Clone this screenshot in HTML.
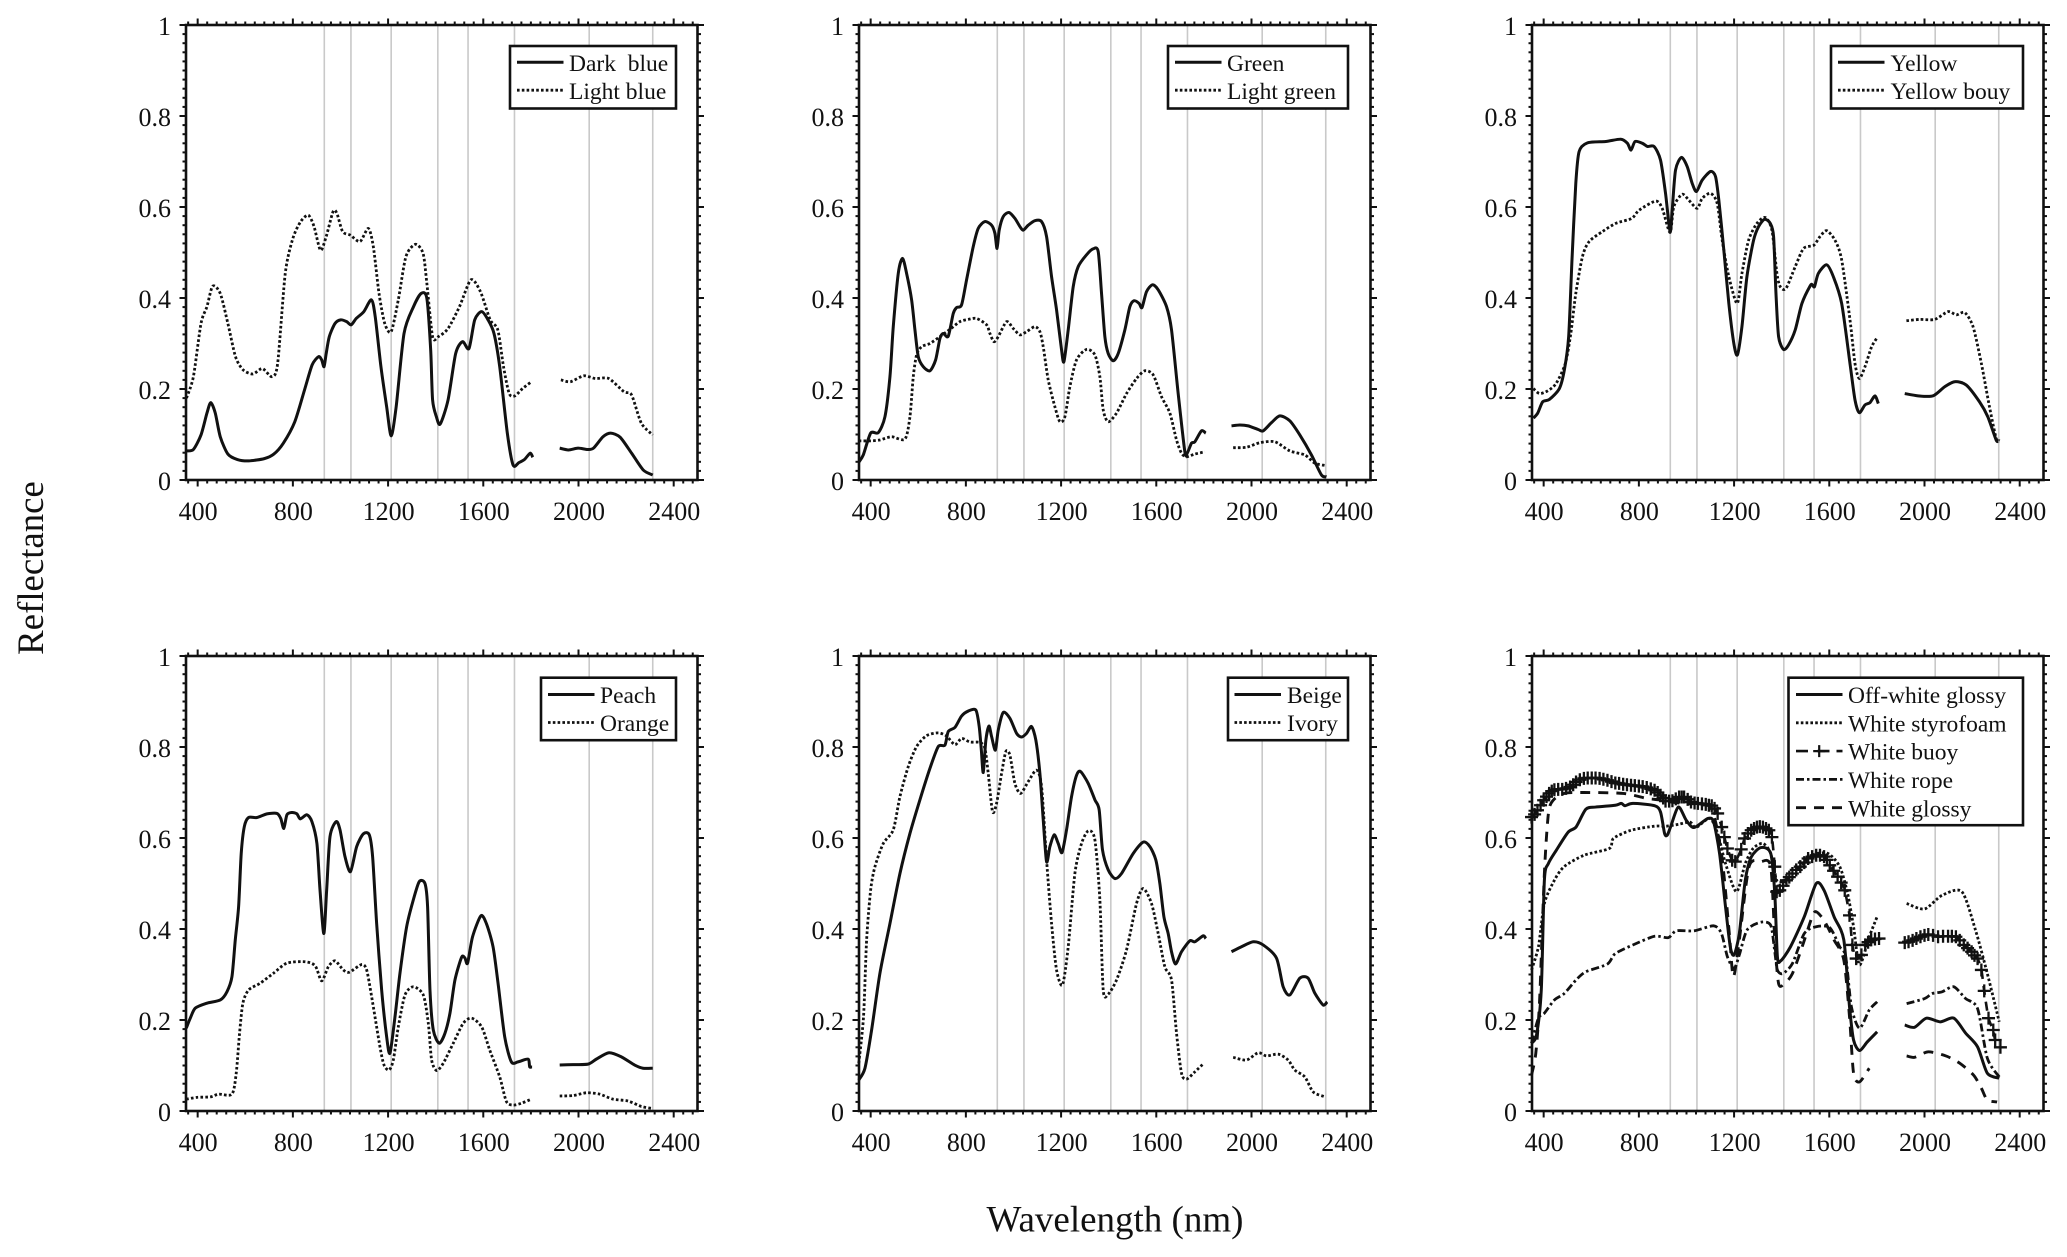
<!DOCTYPE html>
<html lang="en">
<head>
<meta charset="utf-8">
<title>Reflectance spectra</title>
<style>
html,body{margin:0;padding:0;background:#fff;}
svg{display:block;}
text{font-family:"Liberation Serif",serif;fill:#111;white-space:pre;}
</style>
</head>
<body>
<svg id="chart" xmlns="http://www.w3.org/2000/svg" width="2067" height="1257" viewBox="0 0 2067 1257">
<rect x="0" y="0" width="2067" height="1257" fill="#fff"/>
<text x="1115" y="1231.5" font-size="37" text-anchor="middle">Wavelength (nm)</text>
<text transform="translate(43,568) rotate(-90)" font-size="36.8" text-anchor="middle">Reflectance</text>
</svg>
<script>
// ---- tick labels and reference bands ----
const xTickLabels = [400, 800, 1200, 1600, 2000, 2400];
const yTickLabels = [0, 0.2, 0.4, 0.6, 0.8, 1];
const bandWavelengths = [932, 1044, 1213, 1409, 1536, 1731, 2045, 2312];

// ---- series: wavelength (nm) and reflectance; null marks the gap in the record ----
const darkBlueNm = [353,382,414,439,455,474,495,527,567,615,680,720,760,808,849,881,908,921,931,940,953,977,1001,1026,1045,1066,1098,1130,1146,1170,1194,1213,1234,1267,1307,1339,1363,1379,1387,1403,1419,1452,1484,1513,1540,1564,1593,1620,1645,1669,1701,1725,1749,1773,1797,1808,null,1921,1958,1998,2038,2063,2103,2135,2175,2223,2272,2312];
const darkBlueR = [.064,.067,.099,.147,.170,.147,.095,.057,.045,.042,.047,.057,.081,.128,.198,.253,.271,.264,.249,.278,.315,.344,.352,.348,.341,.355,.370,.396,.359,.249,.161,.097,.161,.322,.381,.410,.399,.286,.176,.139,.123,.176,.278,.304,.289,.352,.370,.352,.322,.249,.103,.033,.038,.045,.059,.05,null,.07,.066,.07,.067,.07,.095,.103,.094,.059,.022,.011];
const lightBlueNm = [353,382,414,439,463,495,527,559,591,632,672,712,736,768,800,833,865,889,916,940,969,985,1009,1042,1082,1117,1138,1162,1186,1213,1243,1275,1315,1347,1363,1387,1411,1452,1500,1548,1588,1629,1661,1685,1709,1733,1765,1802,null,1926,1966,2022,2071,2127,2191,2223,2264,2312];
const lightBlueR = [.18,.227,.344,.381,.426,.41,.344,.271,.242,.233,.245,.227,.256,.454,.531,.568,.582,.557,.505,.535,.59,.586,.546,.538,.524,.553,.513,.41,.344,.326,.396,.491,.518,.498,.432,.315,.315,.333,.381,.44,.414,.352,.33,.249,.19,.185,.201,.216,null,.22,.216,.229,.223,.223,.194,.187,.125,.099];

const greenNm = [350,369,400,432,460,481,495,516,534,551,572,586,600,621,649,673,691,705,726,747,761,782,803,831,852,880,908,922,931,940,957,981,1006,1027,1041,1062,1090,1118,1139,1160,1181,1202,1212,1230,1251,1272,1307,1335,1356,1370,1384,1398,1419,1440,1468,1489,1507,1528,1540,1559,1584,1608,1643,1664,1692,1720,1730,1748,1762,1790,1808,null,1916,1951,1986,2028,2049,2084,2119,2161,2203,2252,2294,2315];
const greenR = [.039,.055,.103,.104,.139,.227,.337,.454,.487,.454,.396,.33,.271,.249,.24,.264,.311,.322,.316,.366,.379,.385,.44,.513,.553,.568,.56,.542,.509,.549,.579,.588,.575,.557,.549,.56,.57,.568,.535,.447,.374,.286,.26,.33,.425,.469,.495,.508,.502,.41,.315,.278,.262,.278,.33,.381,.394,.388,.379,.414,.429,.418,.381,.33,.19,.062,.059,.081,.084,.108,.103,null,.119,.121,.119,.111,.108,.126,.141,.13,.099,.055,.011,.007];
const lightGreenNm = [350,400,439,488,544,565,579,593,614,649,691,733,775,810,845,887,901,918,936,971,999,1027,1055,1090,1111,1125,1146,1174,1195,1216,1237,1265,1307,1342,1363,1377,1398,1433,1475,1517,1552,1587,1622,1657,1685,1706,1727,1762,1804,null,1923,1979,2035,2098,2161,2224,2266,2308];
const lightGreenR = [.086,.086,.088,.095,.09,.139,.227,.275,.293,.3,.315,.331,.348,.353,.355,.341,.322,.304,.315,.348,.333,.319,.326,.337,.326,.293,.22,.161,.128,.139,.205,.264,.287,.275,.227,.154,.128,.147,.19,.223,.24,.231,.183,.147,.088,.059,.051,.057,.062,null,.071,.072,.082,.084,.064,.055,.037,.032];

const yellowNm = [357,375,396,424,466,487,505,519,535,549,584,661,724,752,767,784,815,836,864,891,912,931,940,954,979,1003,1024,1042,1066,1101,1122,1136,1157,1178,1199,1214,1233,1254,1282,1303,1328,1352,1366,1376,1387,1408,1429,1457,1485,1520,1529,1538,1554,1589,1617,1652,1687,1708,1726,1750,1771,1792,1806,null,1917,1973,2036,2085,2127,2175,2231,2266,2301,2311];
const yellowR = [.136,.147,.172,.177,.201,.242,.315,.484,.652,.722,.741,.744,.749,.74,.725,.744,.74,.733,.733,.703,.63,.546,.593,.681,.709,.689,.652,.634,.659,.678,.667,.615,.505,.388,.3,.275,.337,.447,.527,.557,.573,.564,.535,.41,.315,.287,.297,.33,.388,.427,.429,.425,.454,.473,.447,.388,.256,.176,.148,.165,.17,.185,.168,null,.19,.185,.185,.205,.216,.209,.172,.139,.088,.086];
const yellowBouyNm = [357,382,417,452,491,514,535,563,591,647,703,770,801,871,898,931,947,982,1010,1045,1066,1101,1129,1150,1178,1213,1233,1261,1296,1331,1359,1380,1394,1418,1457,1492,1535,1561,1589,1624,1652,1687,1708,1726,1750,1778,1803,null,1924,1980,2043,2099,2134,2169,2204,2239,2273,2301,2315];
const yellowBouyR = [.201,.19,.196,.212,.256,.322,.41,.491,.524,.546,.564,.575,.593,.613,.597,.544,.601,.628,.615,.597,.619,.63,.608,.527,.447,.388,.454,.527,.564,.577,.549,.454,.425,.421,.469,.509,.516,.535,.548,.527,.484,.352,.256,.223,.249,.293,.314,null,.35,.353,.353,.37,.363,.368,.337,.256,.161,.092,.086];

const peachNm = [352,369,390,439,495,523,544,558,572,583,596,614,649,691,733,749,762,775,796,817,831,859,880,901,914,930,942,956,982,998,1019,1042,1068,1096,1121,1135,1152,1173,1194,1208,1229,1250,1278,1306,1331,1355,1366,1376,1390,1415,1439,1460,1481,1509,1523,1534,1555,1590,1613,1641,1662,1690,1718,1746,1788,1795,1805,null,1921,1977,2040,2075,2128,2180,2236,2271,2312];
const peachR = [.182,.204,.226,.237,.244,.262,.295,.376,.449,.566,.625,.645,.645,.653,.654,.643,.621,.651,.656,.653,.642,.651,.636,.588,.486,.39,.486,.603,.636,.618,.559,.526,.581,.609,.607,.559,.412,.266,.163,.127,.207,.303,.405,.464,.504,.5,.449,.266,.178,.149,.171,.215,.288,.338,.336,.325,.383,.429,.412,.361,.281,.163,.108,.108,.114,.097,.097,null,.101,.102,.103,.114,.128,.119,.101,.094,.094];
const orangeNm = [352,397,453,488,544,562,576,590,614,663,719,775,852,894,921,949,977,1012,1037,1089,1110,1131,1166,1183,1204,1222,1243,1271,1306,1348,1369,1383,1404,1432,1474,1516,1551,1593,1627,1669,1697,1725,1760,1802,null,1921,1977,2033,2089,2145,2208,2264,2306];
const orangeR = [.026,.03,.031,.037,.037,.083,.171,.237,.266,.281,.303,.325,.328,.319,.286,.317,.33,.31,.305,.322,.31,.251,.141,.101,.09,.112,.185,.255,.273,.255,.193,.112,.089,.105,.149,.193,.204,.185,.134,.075,.021,.013,.017,.026,null,.033,.034,.04,.037,.026,.022,.01,.006];

const beigeNm = [350,376,404,439,481,523,565,607,649,684,712,726,754,782,810,842,856,865,873,884,897,908,924,936,957,985,1013,1034,1055,1076,1094,1111,1125,1139,1153,1171,1188,1204,1223,1244,1265,1282,1314,1342,1360,1374,1398,1426,1454,1503,1545,1573,1598,1615,1632,1650,1664,1681,1706,1741,1762,1797,1808,null,1916,1958,2007,2049,2105,2133,2161,2203,2238,2266,2301,2318];
const beigeR = [.068,.094,.178,.303,.412,.522,.61,.684,.753,.801,.804,.834,.843,.868,.879,.881,.845,.793,.744,.815,.846,.823,.793,.837,.876,.863,.83,.822,.83,.845,.815,.742,.64,.548,.581,.607,.588,.568,.618,.691,.738,.746,.72,.684,.662,.574,.53,.511,.522,.566,.591,.581,.552,.5,.427,.39,.35,.323,.35,.374,.372,.385,.379,null,.35,.361,.372,.365,.336,.273,.255,.292,.292,.259,.233,.24];
const ivoryNm = [350,370,383,400,418,453,495,523,558,593,635,684,719,754,782,817,859,880,894,912,929,950,968,985,1006,1030,1062,1097,1118,1139,1160,1181,1206,1230,1258,1286,1315,1342,1363,1377,1398,1433,1475,1517,1545,1580,1608,1636,1664,1685,1706,1727,1762,1800,null,1923,1979,2028,2063,2112,2154,2182,2224,2259,2304];
const ivoryR = [.105,.207,.376,.486,.537,.588,.618,.691,.757,.801,.825,.831,.824,.805,.819,.811,.81,.797,.742,.658,.676,.742,.79,.782,.72,.698,.724,.749,.713,.552,.412,.31,.277,.361,.522,.588,.616,.596,.464,.266,.257,.288,.354,.456,.489,.456,.39,.317,.288,.171,.083,.07,.086,.105,null,.118,.112,.128,.121,.125,.112,.09,.075,.042,.032];

const offWhiteNm = [349,370,390,403,420,453,503,536,577,618,701,726,742,775,866,891,908,919,933,966,999,1032,1090,1114,1139,1164,1184,1200,1222,1247,1272,1313,1354,1371,1382,1396,1437,1495,1545,1578,1620,1661,1685,1702,1727,1760,1801,null,1917,1958,2008,2066,2123,2173,2223,2264,2314];
const offWhiteR = [.149,.167,.266,.507,.544,.573,.613,.624,.663,.668,.672,.676,.671,.676,.671,.657,.61,.606,.624,.668,.639,.623,.643,.635,.566,.449,.361,.343,.39,.507,.558,.579,.566,.478,.339,.33,.361,.427,.5,.485,.427,.376,.229,.156,.133,.152,.174,null,.189,.184,.204,.196,.204,.171,.141,.083,.072];
const styrofoamNm = [349,378,403,445,486,569,676,693,767,866,916,966,1015,1040,1098,1131,1164,1210,1247,1280,1321,1354,1379,1412,1462,1528,1594,1644,1677,1702,1727,1768,1801,null,1925,2000,2074,2157,2214,2264,2314];
const styrofoamR = [.31,.361,.456,.507,.537,.562,.577,.599,.617,.626,.626,.63,.635,.623,.643,.61,.544,.482,.544,.577,.588,.566,.507,.507,.529,.562,.566,.537,.478,.405,.321,.383,.427,null,.456,.444,.474,.482,.398,.302,.196];
const whiteBuoyNm = [349,362,374,387,400,412,423,434,445,461,478,494,511,524,536,552,569,585,602,618,635,651,668,685,701,717,734,750,767,783,800,816,833,850,866,879,891,902,912,927,941,955,969,980,990,1005,1019,1034,1048,1065,1081,1094,1106,1118,1131,1148,1159,1172,1192,1205,1230,1244,1258,1272,1284,1296,1308,1321,1334,1346,1359,1371,1379,1392,1406,1420,1432,1445,1461,1478,1495,1511,1528,1545,1561,1578,1590,1602,1618,1635,1650,1665,1685,1697,1713,1735,1751,1763,1776,1792,1809,null,1917,1933,1950,1966,1983,2000,2016,2036,2057,2078,2099,2115,2132,2148,2165,2181,2198,2210,2223,2239,2251,2269,2289,2297,2319];
const whiteBuoyR = [.646,.652,.661,.672,.683,.691,.698,.703,.706,.707,.707,.709,.712,.717,.723,.728,.731,.732,.732,.732,.731,.729,.727,.724,.721,.72,.718,.717,.716,.715,.714,.713,.711,.708,.705,.70,.694,.688,.681,.681,.682,.686,.69,.69,.69,.685,.679,.677,.676,.675,.674,.672,.671,.665,.654,.624,.602,.577,.551,.548,.575,.599,.61,.617,.621,.624,.625,.624,.621,.617,.602,.537,.482,.485,.495,.507,.514,.522,.53,.537,.546,.555,.559,.562,.562,.559,.552,.54,.528,.515,.502,.485,.43,.365,.335,.343,.365,.371,.376,.378,.379,null,.37,.372,.375,.379,.383,.386,.388,.386,.383,.384,.384,.384,.383,.375,.365,.358,.35,.342,.335,.31,.264,.204,.178,.156,.14];
const whiteRopeNm = [349,378,403,445,486,536,577,668,701,784,866,924,957,1032,1114,1147,1172,1200,1222,1255,1313,1354,1371,1382,1404,1445,1495,1545,1602,1644,1669,1693,1727,1768,1801,null,1925,2000,2032,2074,2123,2173,2223,2264,2314];
const whiteRopeR = [.149,.204,.215,.244,.258,.288,.306,.323,.346,.367,.384,.381,.396,.396,.407,.39,.339,.313,.343,.398,.415,.408,.35,.31,.302,.324,.39,.405,.403,.361,.339,.229,.182,.222,.24,null,.236,.247,.258,.262,.273,.247,.225,.116,.075];
const whiteGlossyNm = [349,367,383,403,420,440,486,569,734,833,883,920,1000,1100,1147,1180,1197,1222,1263,1313,1354,1371,1387,1412,1445,1486,1528,1545,1578,1620,1661,1685,1702,1727,1768,null,1925,1958,2016,2090,2148,2206,2239,2264,2305];
const whiteGlossyR = [.079,.127,.244,.522,.654,.683,.698,.70,.698,.687,.684,.68,.675,.668,.566,.39,.295,.376,.537,.548,.537,.376,.28,.28,.302,.361,.427,.438,.419,.376,.332,.207,.083,.064,.094,null,.121,.118,.13,.121,.105,.079,.05,.024,.02];

const SVGNS = 'http://www.w3.org/2000/svg';
const svg = document.getElementById('chart');
const plotW = 511.5, plotH = 455;
const xMin = 351, xMax = 2500;
const xMinorStep = 40, yMinorStep = 0.02;

const STYLES = {
  solid: {dash: null, width: 3},
  dotted: {dash: '2.6 2.2', width: 2.8},
  dashed: {dash: '10 8', width: 2.9},
  dashdot: {dash: '8 3 2.5 3', width: 2.8},
  buoy: {dash: '9 7', width: 2.6}
};

const panels = [
  {name:'dark-light-blue', left:186, top:25, legend:{x:510, w:166, lineX:517, textX:569},
   series:[{label:'Dark  blue', nm:darkBlueNm, r:darkBlueR, style:'solid'},{label:'Light blue', nm:lightBlueNm, r:lightBlueR, style:'dotted'}]},
  {name:'green', left:859, top:25, legend:{x:1168, w:180, lineX:1175, textX:1227},
   series:[{label:'Green', nm:greenNm, r:greenR, style:'solid'},{label:'Light green', nm:lightGreenNm, r:lightGreenR, style:'dotted'}]},
  {name:'yellow', left:1532, top:25, legend:{x:1831, w:192, lineX:1838, textX:1890.5},
   series:[{label:'Yellow', nm:yellowNm, r:yellowR, style:'solid'},{label:'Yellow bouy', nm:yellowBouyNm, r:yellowBouyR, style:'dotted'}]},
  {name:'peach-orange', left:186, top:656, legend:{x:541, w:135, lineX:548, textX:600},
   series:[{label:'Peach', nm:peachNm, r:peachR, style:'solid'},{label:'Orange', nm:orangeNm, r:orangeR, style:'dotted'}]},
  {name:'beige-ivory', left:859, top:656, legend:{x:1228, w:120, lineX:1234.5, textX:1287},
   series:[{label:'Beige', nm:beigeNm, r:beigeR, style:'solid'},{label:'Ivory', nm:ivoryNm, r:ivoryR, style:'dotted'}]},
  {name:'whites', left:1532, top:656, legend:{x:1788.5, w:234.5, lineX:1796, textX:1848},
   series:[{label:'Off-white glossy', nm:offWhiteNm, r:offWhiteR, style:'solid'},
           {label:'White styrofoam', nm:styrofoamNm, r:styrofoamR, style:'dotted'},
           {label:'White buoy', nm:whiteBuoyNm, r:whiteBuoyR, style:'buoy'},
           {label:'White rope', nm:whiteRopeNm, r:whiteRopeR, style:'dashdot'},
           {label:'White glossy', nm:whiteGlossyNm, r:whiteGlossyR, style:'dashed'}]}
];

function make(tag, attrs, parent) {
  const el = document.createElementNS(SVGNS, tag);
  for (const k in attrs) el.setAttribute(k, attrs[k]);
  parent.appendChild(el);
  return el;
}
function smoothPath(pts) {
  if (pts.length < 2) return '';
  let d = 'M' + pts[0][0].toFixed(2) + ' ' + pts[0][1].toFixed(2);
  const t = 0.13;
  for (let i = 0; i < pts.length - 1; i++) {
    const p0 = pts[Math.max(i - 1, 0)], p1 = pts[i], p2 = pts[i + 1], p3 = pts[Math.min(i + 2, pts.length - 1)];
    const c1x = p1[0] + (p2[0] - p0[0]) * t, c1y = p1[1] + (p2[1] - p0[1]) * t;
    const c2x = p2[0] - (p3[0] - p1[0]) * t, c2y = p2[1] - (p3[1] - p1[1]) * t;
    d += 'C' + c1x.toFixed(2) + ' ' + c1y.toFixed(2) + ' ' + c2x.toFixed(2) + ' ' + c2y.toFixed(2) + ' ' + p2[0].toFixed(2) + ' ' + p2[1].toFixed(2);
  }
  return d;
}
function slug(s) { return s.trim().toLowerCase().replace(/\s+/g, '-'); }

panels.forEach(function (p) {
  const xScale = function (v) { return p.left + (v - xMin) / (xMax - xMin) * plotW; };
  const yScale = function (v) { return p.top + plotH - v * plotH; };
  const right = p.left + plotW, bottom = p.top + plotH;

  const g = make('g', {}, svg);
  
  

  // reference bands
  bandWavelengths.forEach(function (b) {
    const line = make('line', {x1: xScale(b), x2: xScale(b), y1: p.top, y2: bottom, stroke: '#c9c9c9', 'stroke-width': 1.6}, g);
    
    
  });

  // series
  p.series.forEach(function (s) {
    const st = STYLES[s.style];
    const sg = make('g', {}, g);
    
    
    let seg = [];
    const segs = [];
    s.nm.forEach(function (w, i) {
      if (w === null || s.r[i] === null) { segs.push(seg); seg = []; }
      else seg.push([xScale(w), yScale(s.r[i])]);
    });
    segs.push(seg);
    segs.forEach(function (pts) {
      const path = make('path', {d: smoothPath(pts), fill: 'none', stroke: '#111', 'stroke-width': st.width, 'stroke-linejoin': 'round'}, sg);
      if (st.dash) path.setAttribute('stroke-dasharray', st.dash);
      
      
      if (s.style === 'buoy') {
        pts.forEach(function (q) {
          const mark = make('path', {d: 'M' + (q[0] - 6.5) + ' ' + q[1] + 'H' + (q[0] + 6.5) + 'M' + q[0] + ' ' + (q[1] - 6.5) + 'V' + (q[1] + 6.5), fill: 'none', stroke: '#111', 'stroke-width': 2.3}, sg);
          
          
        });
      }
    });
  });

  // frame
  const frame = make('rect', {x: p.left, y: p.top, width: plotW, height: plotH, fill: 'none', stroke: '#111', 'stroke-width': 2.6}, g);
  
  

  // x ticks
  for (let v = 360; v < xMax; v += xMinorStep) {
    const x = xScale(v);
    const major = xTickLabels.indexOf(v) >= 0;
    const len = major ? 6.5 : 3.5;
    const tb = make('line', {x1: x, x2: x, y1: bottom, y2: bottom + len, stroke: '#111', 'stroke-width': 2}, g);
    
    
    const tt = make('line', {x1: x, x2: x, y1: p.top, y2: p.top - len, stroke: '#111', 'stroke-width': 2}, g);
    
    
  }
  // y ticks
  for (let i = 0; i <= 50; i++) {
    const v = i * yMinorStep;
    const y = yScale(v);
    const major = i % 10 === 0;
    const len = major ? 6.5 : 3.5;
    const tl = make('line', {x1: p.left, x2: p.left - len, y1: y, y2: y, stroke: '#111', 'stroke-width': 2}, g);
    
    
    const tr = make('line', {x1: right, x2: right + len, y1: y, y2: y, stroke: '#111', 'stroke-width': 2}, g);
    
    
  }
  // tick labels
  xTickLabels.forEach(function (v) {
    const t = make('text', {x: xScale(v) + 0.5, y: bottom + 40, 'font-size': 26, 'text-anchor': 'middle'}, g);
    t.textContent = String(v);
    
    
  });
  yTickLabels.forEach(function (v) {
    const t = make('text', {x: p.left - 15, y: yScale(v) + 9.8, 'font-size': 26, 'text-anchor': 'end'}, g);
    t.textContent = String(v);
    
    
  });

  // legend
  const lg = p.legend;
  const n = p.series.length;
  const topRow = p.top === 25;
  const ly = p.top + (topRow ? 21 : 21.7);
  const lh = n === 2 ? 62.5 : 147.5;
  const step = n === 2 ? 28 : 28.3;
  const legend = make('g', {}, g);
  
  
  const box = make('rect', {x: lg.x, y: ly, width: lg.w, height: lh, fill: '#fff', stroke: '#111', 'stroke-width': 2.6}, legend);
  
  
  p.series.forEach(function (s, i) {
    const st = STYLES[s.style];
    const yL = ly + (topRow ? 16.2 : 16.8) + i * step;
    const entry = make('g', {}, legend);
    
    
    const ln = make('line', {x1: lg.lineX, x2: lg.lineX + 46.5, y1: yL, y2: yL, stroke: '#111', 'stroke-width': st.width}, entry);
    if (s.style === 'buoy') ln.setAttribute('stroke-dasharray', '12 9.5 12 7');
    else if (st.dash) ln.setAttribute('stroke-dasharray', st.dash);
    
    
    if (s.style === 'buoy') {
      const cx = lg.lineX + 23.2;
      const m = make('path', {d: 'M' + (cx - 6) + ' ' + yL + 'H' + (cx + 6) + 'M' + cx + ' ' + (yL - 6) + 'V' + (yL + 6), fill: 'none', stroke: '#111', 'stroke-width': 2.2}, entry);
      
      
    }
    const tx = make('text', {x: lg.textX, y: yL + 8.6, 'font-size': 23.5}, entry);
    tx.textContent = s.label;
    
    
  });
});
</script>
</body>
</html>
